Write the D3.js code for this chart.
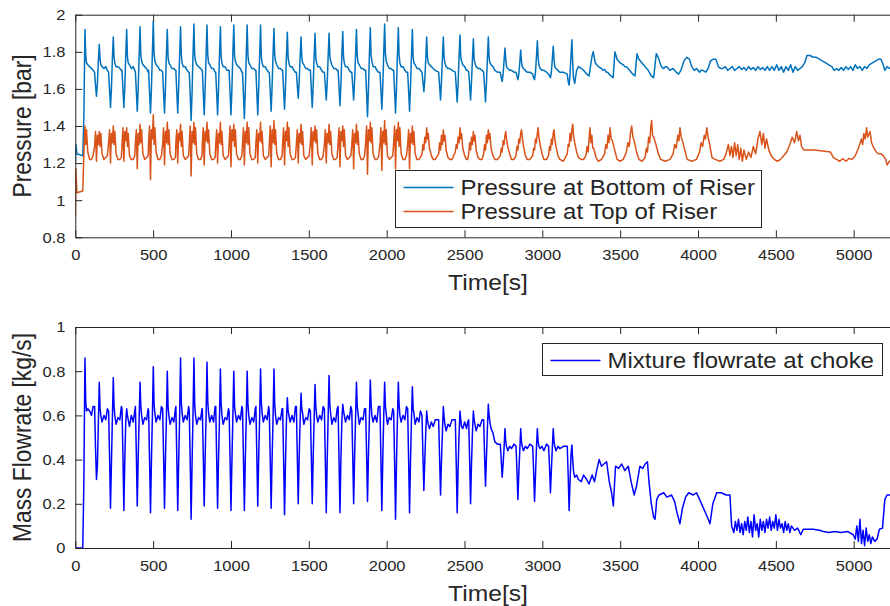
<!DOCTYPE html>
<html><head><meta charset="utf-8">
<script src="https://cdn.jsdelivr.net/npm/d3@7"></script>
<style>
body{margin:0;background:#fff}
svg{display:block}
text{font-family:"Liberation Sans",Arial,Helvetica,sans-serif;fill:#262626}
</style>
</head><body>
<svg id="chart" width="890" height="606"></svg>
<script>
// ---------------- DATA ----------------
const xTicks = [0,500,1000,1500,2000,2500,3000,3500,4000,4500,5000];
const yTicksPressure = [0.8,1,1.2,1.4,1.6,1.8,2];
const yTicksFlow = [0,0.2,0.4,0.6,0.8,1];
const seriesNames = ["Pressure at Bottom of Riser","Pressure at Top of Riser","Mixture flowrate at choke"];

// shared time samples of the slugging cycles (s)
const cycleTime = [
0,4,10,48,55,62,67,72,80,92,104,114,
124,130,136,142,148,154,159,164,172,184,196,206,
214,220,226,232,238,244,249,254,262,274,286,296,
300,306,312,318,324,330,335,340,348,360,372,382,
386,392,398,404,410,416,421,426,434,446,458,468,
471,477,483,489,495,501,506,511,519,531,543,553,
561,567,573,579,585,591,596,601,609,621,633,643,
646,652,658,664,670,676,681,686,694,706,718,728,
732,738,744,750,756,762,767,772,780,792,804,814,
816,822,828,834,840,846,851,856,864,876,888,898,
902,908,914,920,926,932,937,942,950,962,974,984,
988,994,1000,1006,1012,1018,1023,1028,1036,1048,1060,1070,
1074,1080,1086,1092,1098,1104,1109,1114,1122,1134,1146,1156,
1160,1166,1172,1178,1184,1190,1195,1200,1208,1220,1232,1242,
1246,1252,1258,1264,1270,1276,1281,1286,1294,1306,1318,1328,
1332,1338,1344,1350,1356,1362,1367,1372,1380,1392,1404,1414,
1420,1426,1432,1438,1444,1450,1455,1460,1468,1480,1492,1502,
1510,1516,1522,1528,1534,1540,1545,1550,1558,1570,1582,1592,
1600,1606,1612,1618,1624,1630,1635,1640,1648,1660,1672,1682,
1688,1694,1700,1706,1712,1718,1723,1728,1736,1748,1760,1770,
1776,1782,1788,1794,1800,1806,1811,1816,1824,1836,1848,1858,
1865,1871,1877,1883,1889,1895,1900,1905,1913,1925,1937,1947,
1957,1963,1969,1975,1981,1987,1992,1997,2005,2017,2029,2039,
2045,2051,2057,2063,2069,2075,2080,2085,2093,2105,2117,2127,
2135,2141,2147,2153,2159,2165,2170,2175,2183,2195,2207,2217,
2227,2233,2239,2245,2251,2257,2262,2267,2275,2287,2299,2312,
2334,2340,2346,2352,2358,2364,2369,2374,2382,2394,2406,2420,
2441,2447,2453,2459,2465,2471,2476,2481,2489,2501,2513,2520,
2527,2533,2539,2545,2551,2557,2562,2567,2575,2587,2599,2613,
2623,2629,2635,2641,2647,2653,2658,2663,2671,2683,2695,2712,
2730,2736,2742,2748,2754,2760,2765,2770,2778,2790,2802,2818,
2831,2837,2843,2849,2855,2861,2866,2871,2879,2891,2903,2920,
2938,2944,2950,2956,2962,2968,2973,2978,2986,2998,3010,3027,
3040,3046,3052,3058,3064,3070,3075,3080,3088,3100,3112,3135,
3160,3166,3172,3178,3184,3190,3195,3200,3208,3220,3232,3250
];

// Pressure at bottom of riser (bar), at cycleTime
const pBottomCycle = [
1.20,1.30,1.25,1.24,1.45,1.92,1.78,1.74,1.73,1.72,1.71,1.70,
1.69,1.62,1.56,1.63,1.75,1.84,1.76,1.73,1.72,1.71,1.72,1.70,
1.69,1.60,1.50,1.60,1.76,1.88,1.77,1.74,1.72,1.72,1.71,1.70,
1.70,1.60,1.50,1.61,1.78,1.92,1.77,1.74,1.73,1.71,1.72,1.70,
1.69,1.59,1.48,1.60,1.78,1.935,1.78,1.75,1.73,1.72,1.71,1.69,
1.70,1.58,1.47,1.60,1.79,1.965,1.79,1.75,1.73,1.72,1.70,1.70,
1.69,1.58,1.47,1.60,1.78,1.92,1.77,1.74,1.73,1.71,1.71,1.70,
1.70,1.58,1.47,1.61,1.78,1.935,1.78,1.74,1.72,1.72,1.70,1.69,
1.69,1.57,1.43,1.58,1.78,1.95,1.78,1.75,1.73,1.72,1.71,1.70,
1.70,1.58,1.46,1.60,1.78,1.945,1.78,1.74,1.73,1.71,1.71,1.69,
1.69,1.58,1.46,1.60,1.78,1.935,1.77,1.74,1.72,1.72,1.70,1.70,
1.70,1.58,1.46,1.60,1.79,1.945,1.78,1.75,1.73,1.72,1.71,1.69,
1.69,1.57,1.44,1.59,1.78,1.945,1.78,1.74,1.73,1.71,1.71,1.70,
1.70,1.58,1.46,1.60,1.78,1.945,1.77,1.74,1.72,1.72,1.70,1.69,
1.69,1.59,1.48,1.61,1.78,1.925,1.78,1.75,1.73,1.71,1.71,1.70,
1.70,1.59,1.49,1.61,1.77,1.905,1.77,1.74,1.72,1.72,1.70,1.69,
1.69,1.62,1.55,1.64,1.77,1.88,1.77,1.74,1.73,1.71,1.71,1.70,
1.70,1.60,1.50,1.62,1.77,1.90,1.77,1.74,1.72,1.72,1.70,1.69,
1.69,1.62,1.54,1.63,1.77,1.90,1.78,1.75,1.73,1.71,1.71,1.70,
1.70,1.61,1.51,1.62,1.78,1.91,1.77,1.74,1.72,1.72,1.70,1.69,
1.69,1.62,1.54,1.64,1.78,1.92,1.78,1.74,1.73,1.71,1.71,1.70,
1.70,1.58,1.45,1.60,1.78,1.93,1.78,1.75,1.72,1.72,1.70,1.69,
1.69,1.60,1.49,1.61,1.79,1.95,1.79,1.75,1.73,1.71,1.71,1.70,
1.70,1.59,1.47,1.60,1.78,1.93,1.78,1.74,1.72,1.72,1.70,1.69,
1.69,1.59,1.48,1.61,1.77,1.92,1.77,1.74,1.73,1.71,1.71,1.70,
1.69,1.64,1.585,1.65,1.76,1.88,1.77,1.74,1.73,1.72,1.71,1.70,
1.69,1.62,1.54,1.64,1.76,1.88,1.77,1.74,1.72,1.71,1.71,1.70,
1.69,1.61,1.53,1.63,1.77,1.89,1.77,1.75,1.73,1.72,1.70,1.70,
1.69,1.62,1.54,1.64,1.76,1.87,1.76,1.74,1.72,1.71,1.71,1.70,
1.69,1.61,1.53,1.63,1.76,1.88,1.77,1.74,1.73,1.72,1.70,1.69,
1.69,1.66,1.64,1.68,1.75,1.82,1.76,1.72,1.71,1.70,1.70,1.69,
1.69,1.67,1.65,1.68,1.74,1.81,1.75,1.72,1.71,1.70,1.69,1.69,
1.68,1.66,1.65,1.69,1.77,1.86,1.77,1.73,1.71,1.70,1.70,1.69,
1.68,1.67,1.66,1.69,1.76,1.83,1.76,1.72,1.71,1.70,1.69,1.69,
1.68,1.64,1.62,1.68,1.78,1.865,1.74,1.66,1.63,1.70,1.72,1.71
];

// Pressure at top of riser (bar), at cycleTime
const pTopCycle = [
0.91,1.17,1.04,1.05,1.25,1.40,1.30,1.38,1.26,1.22,1.22,1.24,
1.29,1.37,1.21,1.35,1.30,1.37,1.29,1.36,1.25,1.22,1.23,1.24,
1.31,1.38,1.20,1.36,1.31,1.40,1.30,1.37,1.25,1.22,1.22,1.23,
1.30,1.39,1.21,1.37,1.32,1.39,1.29,1.36,1.24,1.22,1.22,1.24,
1.31,1.38,1.17,1.36,1.30,1.41,1.31,1.38,1.25,1.22,1.23,1.24,
1.32,1.40,1.11,1.38,1.33,1.46,1.30,1.39,1.26,1.22,1.22,1.24,
1.30,1.39,1.19,1.37,1.31,1.42,1.30,1.38,1.25,1.22,1.22,1.23,
1.31,1.38,1.20,1.36,1.32,1.41,1.29,1.37,1.24,1.22,1.23,1.24,
1.30,1.40,1.13,1.37,1.31,1.42,1.30,1.39,1.25,1.22,1.22,1.24,
1.31,1.39,1.19,1.37,1.32,1.42,1.31,1.38,1.25,1.22,1.22,1.23,
1.30,1.38,1.20,1.36,1.31,1.42,1.30,1.37,1.24,1.22,1.23,1.24,
1.31,1.40,1.18,1.38,1.32,1.41,1.29,1.38,1.25,1.22,1.22,1.24,
1.30,1.39,1.19,1.37,1.31,1.42,1.30,1.39,1.25,1.22,1.22,1.23,
1.31,1.38,1.20,1.36,1.32,1.42,1.31,1.37,1.24,1.22,1.23,1.24,
1.30,1.40,1.18,1.38,1.31,1.43,1.30,1.38,1.25,1.22,1.22,1.24,
1.31,1.39,1.19,1.37,1.32,1.42,1.29,1.39,1.25,1.22,1.22,1.23,
1.30,1.38,1.20,1.36,1.31,1.41,1.30,1.37,1.24,1.22,1.23,1.24,
1.31,1.39,1.19,1.37,1.32,1.40,1.31,1.38,1.25,1.22,1.22,1.24,
1.30,1.38,1.20,1.36,1.31,1.41,1.30,1.37,1.25,1.22,1.22,1.23,
1.31,1.39,1.18,1.37,1.32,1.40,1.29,1.38,1.24,1.22,1.23,1.24,
1.30,1.38,1.17,1.36,1.31,1.41,1.30,1.37,1.25,1.22,1.22,1.24,
1.31,1.40,1.14,1.38,1.32,1.42,1.31,1.39,1.25,1.22,1.22,1.23,
1.30,1.39,1.16,1.37,1.31,1.43,1.30,1.38,1.24,1.22,1.23,1.24,
1.31,1.40,1.17,1.38,1.32,1.42,1.29,1.39,1.25,1.22,1.22,1.24,
1.30,1.38,1.17,1.36,1.31,1.40,1.30,1.37,1.25,1.22,1.22,1.23,
1.25,1.30,1.27,1.34,1.31,1.39,1.33,1.36,1.28,1.24,1.22,1.22,
1.25,1.31,1.27,1.35,1.30,1.38,1.32,1.35,1.27,1.23,1.22,1.22,
1.26,1.30,1.28,1.34,1.31,1.39,1.33,1.36,1.28,1.24,1.22,1.22,
1.25,1.31,1.27,1.34,1.30,1.37,1.32,1.35,1.27,1.23,1.22,1.22,
1.25,1.30,1.27,1.35,1.31,1.38,1.33,1.36,1.28,1.24,1.22,1.22,
1.24,1.28,1.26,1.32,1.30,1.35,1.37,1.33,1.29,1.25,1.22,1.22,
1.24,1.29,1.27,1.33,1.31,1.36,1.38,1.34,1.29,1.24,1.22,1.22,
1.24,1.28,1.27,1.33,1.31,1.36,1.39,1.34,1.30,1.25,1.22,1.22,
1.24,1.29,1.27,1.33,1.30,1.36,1.38,1.33,1.29,1.24,1.22,1.21,
1.25,1.30,1.29,1.36,1.32,1.38,1.41,1.35,1.31,1.26,1.23,1.22
];

// Mixture flowrate at choke (kg/s), at cycleTime
const flowCycle = [
0,0,0,0,0.30,0.86,0.66,0.62,0.63,0.62,0.60,0.64,
0.64,0.45,0.31,0.37,0.56,0.75,0.63,0.60,0.57,0.60,0.58,0.63,
0.62,0.42,0.18,0.38,0.58,0.77,0.64,0.60,0.56,0.59,0.58,0.64,
0.63,0.42,0.17,0.40,0.57,0.63,0.60,0.58,0.55,0.60,0.57,0.62,
0.64,0.43,0.19,0.41,0.58,0.75,0.64,0.60,0.56,0.59,0.58,0.63,
0.62,0.40,0.16,0.39,0.59,0.82,0.65,0.61,0.57,0.60,0.58,0.64,
0.63,0.42,0.18,0.40,0.58,0.80,0.64,0.60,0.56,0.59,0.57,0.63,
0.64,0.41,0.17,0.39,0.59,0.86,0.66,0.61,0.57,0.60,0.58,0.64,
0.62,0.40,0.13,0.38,0.60,0.86,0.65,0.60,0.56,0.59,0.58,0.63,
0.63,0.42,0.19,0.41,0.59,0.84,0.66,0.61,0.57,0.60,0.57,0.64,
0.64,0.41,0.18,0.40,0.58,0.81,0.65,0.60,0.56,0.59,0.58,0.63,
0.62,0.41,0.17,0.39,0.59,0.80,0.64,0.61,0.57,0.60,0.58,0.64,
0.63,0.41,0.17,0.40,0.58,0.80,0.65,0.60,0.56,0.59,0.57,0.63,
0.64,0.42,0.19,0.41,0.59,0.81,0.66,0.61,0.57,0.60,0.58,0.64,
0.62,0.41,0.18,0.40,0.58,0.81,0.65,0.60,0.56,0.59,0.58,0.63,
0.63,0.40,0.15,0.38,0.57,0.68,0.62,0.60,0.57,0.60,0.57,0.64,
0.64,0.42,0.20,0.41,0.57,0.70,0.63,0.61,0.56,0.59,0.58,0.63,
0.62,0.42,0.20,0.41,0.58,0.74,0.64,0.60,0.57,0.60,0.58,0.64,
0.63,0.40,0.16,0.39,0.59,0.78,0.65,0.61,0.56,0.59,0.57,0.63,
0.64,0.40,0.16,0.40,0.57,0.65,0.62,0.60,0.57,0.60,0.58,0.64,
0.62,0.42,0.20,0.41,0.58,0.75,0.64,0.61,0.56,0.59,0.58,0.63,
0.63,0.43,0.21,0.42,0.58,0.76,0.65,0.60,0.57,0.60,0.57,0.64,
0.64,0.41,0.17,0.40,0.59,0.75,0.64,0.61,0.56,0.59,0.58,0.63,
0.62,0.39,0.13,0.38,0.58,0.75,0.65,0.60,0.57,0.60,0.58,0.64,
0.63,0.40,0.16,0.39,0.57,0.73,0.63,0.61,0.56,0.59,0.57,0.62,
0.60,0.42,0.26,0.40,0.52,0.62,0.58,0.56,0.54,0.57,0.55,0.58,
0.58,0.41,0.24,0.39,0.52,0.64,0.59,0.56,0.53,0.56,0.55,0.58,
0.58,0.38,0.16,0.36,0.51,0.62,0.58,0.55,0.54,0.57,0.54,0.57,
0.58,0.40,0.20,0.38,0.52,0.62,0.58,0.56,0.53,0.56,0.55,0.58,
0.58,0.42,0.28,0.41,0.54,0.65,0.60,0.57,0.54,0.52,0.48,0.47,
0.47,0.40,0.32,0.38,0.45,0.54,0.48,0.46,0.44,0.46,0.45,0.47,
0.46,0.35,0.22,0.34,0.44,0.54,0.48,0.46,0.44,0.46,0.45,0.47,
0.46,0.35,0.21,0.33,0.45,0.54,0.48,0.46,0.45,0.46,0.44,0.47,
0.46,0.37,0.25,0.35,0.45,0.54,0.48,0.46,0.44,0.46,0.45,0.46,
0.46,0.33,0.17,0.30,0.42,0.466,0.40,0.35,0.32,0.33,0.31,0.30
];

// irregular tail after the slugging cycles
const tailTimeBottom = [3265,3285,3300,3320,3327,3340,3350,3360,3370,3380,3390,3400,3410,3420,3440,3455,3466,3480,3490,3500,3510,3520,3530,3540,3560,3580,3595,3608,3620,3630,3640,3650,3660,3680,3700,3715,3732,3745,3760,3770,3780,3790,3800,3810,3820,3830,3840,3860,3875,3890,3910,3927,3945,3960,3975,3990,4000,4010,4020,4030,4050,4065,4080,4097,4115,4130,4145,4160,4175,4190,4205,4220,4235,4250,4265,4280,4295,4310,4325,4340,4355,4370,4385,4400,4415,4430,4445,4460,4475,4490,4505,4520,4535,4550,4565,4580,4595,4610,4625,4640,4655,4670,4685,4700,4720,4740,4760,4780,4800,4820,4840,4860,4875,4890,4905,4920,4935,4950,4965,4980,4995,5010,5025,5040,5055,5070,5085,5100,5120,5140,5160,5175,5190,5200,5215,5230,5245,5260,5300];
const tailBottom = [1.70,1.68,1.67,1.78,1.80,1.74,1.73,1.72,1.715,1.71,1.70,1.705,1.69,1.69,1.67,1.66,1.80,1.76,1.75,1.74,1.735,1.73,1.72,1.72,1.70,1.68,1.67,1.79,1.76,1.75,1.74,1.73,1.72,1.70,1.67,1.66,1.79,1.77,1.73,1.715,1.71,1.72,1.72,1.71,1.70,1.705,1.71,1.69,1.68,1.70,1.75,1.77,1.76,1.72,1.70,1.71,1.70,1.69,1.70,1.70,1.69,1.71,1.75,1.76,1.76,1.72,1.71,1.71,1.72,1.70,1.71,1.72,1.70,1.71,1.72,1.705,1.715,1.70,1.72,1.705,1.715,1.70,1.72,1.705,1.715,1.70,1.72,1.70,1.72,1.70,1.73,1.70,1.72,1.69,1.72,1.70,1.73,1.69,1.72,1.70,1.71,1.72,1.74,1.78,1.78,1.77,1.77,1.76,1.75,1.74,1.73,1.72,1.70,1.71,1.70,1.715,1.70,1.72,1.705,1.72,1.70,1.73,1.71,1.72,1.70,1.72,1.71,1.73,1.74,1.75,1.76,1.76,1.73,1.70,1.72,1.71,1.72,1.72,1.72];

const tailTimeTop = [3265,3280,3288,3295,3300,3306,3312,3318,3324,3330,3345,3360,3380,3400,3408,3415,3422,3428,3435,3442,3450,3465,3480,3500,3520,3540,3550,3558,3566,3574,3582,3590,3605,3620,3640,3660,3668,3675,3683,3690,3696,3702,3708,3715,3730,3745,3760,3790,3820,3840,3850,3860,3870,3877,3884,3892,3900,3915,3930,3960,3990,4010,4020,4030,4040,4048,4056,4065,4075,4090,4110,4140,4165,4180,4195,4205,4215,4225,4235,4245,4255,4265,4275,4285,4295,4310,4325,4340,4355,4370,4385,4398,4410,4420,4430,4440,4455,4470,4490,4510,4530,4550,4570,4590,4605,4620,4634,4645,4655,4665,4680,4700,4750,4800,4850,4870,4890,4910,4930,4950,4970,4990,5010,5030,5050,5058,5065,5074,5083,5090,5095,5105,5115,5130,5145,5160,5175,5190,5205,5215,5230,5250,5300];
const tailTop = [1.22,1.24,1.29,1.26,1.33,1.39,1.31,1.35,1.28,1.28,1.23,1.21,1.22,1.25,1.30,1.28,1.35,1.31,1.39,1.33,1.32,1.27,1.22,1.21,1.22,1.26,1.31,1.29,1.36,1.40,1.34,1.32,1.26,1.22,1.21,1.23,1.28,1.26,1.34,1.31,1.39,1.43,1.35,1.34,1.30,1.25,1.22,1.21,1.22,1.25,1.30,1.28,1.35,1.32,1.39,1.34,1.32,1.27,1.22,1.21,1.22,1.26,1.31,1.29,1.35,1.33,1.39,1.34,1.30,1.23,1.22,1.21,1.22,1.25,1.30,1.24,1.29,1.23,1.31,1.24,1.30,1.22,1.28,1.21,1.27,1.22,1.26,1.23,1.29,1.25,1.33,1.37,1.30,1.36,1.28,1.33,1.27,1.24,1.22,1.21,1.22,1.24,1.26,1.30,1.34,1.31,1.37,1.32,1.35,1.29,1.27,1.27,1.27,1.265,1.26,1.23,1.22,1.21,1.225,1.21,1.225,1.22,1.24,1.28,1.33,1.30,1.36,1.33,1.39,1.34,1.35,1.37,1.31,1.28,1.26,1.25,1.25,1.24,1.22,1.19,1.21,1.22,1.22];

const tailTimeFlow = [3265,3285,3300,3320,3335,3349,3365,3380,3395,3413,3430,3445,3456,3470,3490,3510,3530,3552,3570,3590,3605,3627,3645,3660,3675,3685,3700,3715,3724,3735,3750,3780,3800,3830,3850,3865,3884,3900,3920,3940,3970,3990,4010,4035,4060,4077,4095,4120,4150,4180,4205,4216,4230,4240,4250,4260,4270,4280,4290,4300,4310,4320,4330,4340,4350,4360,4370,4380,4390,4400,4410,4420,4430,4440,4450,4460,4470,4480,4490,4500,4510,4520,4530,4540,4550,4560,4570,4580,4590,4600,4620,4640,4660,4676,4700,4740,4780,4805,4840,4880,4920,4960,4997,5010,5020,5030,5040,5050,5060,5070,5080,5090,5100,5110,5120,5135,5150,5165,5185,5200,5215,5240,5300];
const tailFlow = [0.33,0.31,0.29,0.33,0.30,0.35,0.40,0.37,0.38,0.39,0.30,0.25,0.19,0.37,0.36,0.38,0.35,0.37,0.30,0.24,0.28,0.37,0.36,0.38,0.39,0.30,0.20,0.14,0.13,0.22,0.24,0.25,0.23,0.24,0.21,0.16,0.11,0.18,0.23,0.25,0.24,0.25,0.22,0.18,0.14,0.11,0.20,0.25,0.25,0.24,0.24,0.10,0.07,0.12,0.08,0.13,0.07,0.11,0.06,0.12,0.08,0.14,0.07,0.12,0.05,0.15,0.08,0.11,0.05,0.13,0.08,0.12,0.07,0.13,0.09,0.14,0.08,0.12,0.09,0.15,0.08,0.13,0.09,0.11,0.07,0.12,0.08,0.11,0.07,0.10,0.08,0.09,0.06,0.085,0.085,0.085,0.08,0.075,0.07,0.075,0.07,0.075,0.06,0.04,0.10,0.03,0.13,0.02,0.08,0.01,0.09,0.03,0.06,0.02,0.05,0.03,0.04,0.085,0.09,0.22,0.24,0.24,0.25];

// ---------------- DRAW ----------------
const svg = d3.select("#chart");
const SX = 1.1; // horizontal text stretch of the reference rendering
const ink = "#262626";
const colBottom = "#0072BD", colTop = "#D95319", colFlow = "#0000FF";

const x = d3.scaleLinear().domain([0, 5300]).range([75.3, 900.4]);
const yP = d3.scaleLinear().domain([0.8, 2]).range([237.3, 14.7]);
const yF = d3.scaleLinear().domain([0, 1]).range([548, 327]);

function pairs(t, v){ return t.map((d,i)=>[d, v[i]]); }
const dBottom = pairs(cycleTime.concat(tailTimeBottom), pBottomCycle.concat(tailBottom));
const dTop = pairs(cycleTime.concat(tailTimeTop), pTopCycle.concat(tailTop));
const dFlow = pairs(cycleTime.concat(tailTimeFlow), flowCycle.concat(tailFlow));

const defs = svg.append("defs");
function clip(id, y){
  const r = y.range();
  defs.append("clipPath").attr("id", id).append("rect")
    .attr("x", x.range()[0]).attr("y", r[1]-1)
    .attr("width", x.range()[1]-x.range()[0]).attr("height", r[0]-r[1]+2);
}
clip("cP", yP); clip("cF", yF);

function drawLine(data, y, color, clipId){
  const line = d3.line().x(d=>x(d[0])).y(d=>y(d[1]));
  svg.append("path").datum(data)
    .attr("clip-path", `url(#${clipId})`)
    .attr("fill","none").attr("stroke", color)
    .attr("stroke-width", 1.5).attr("stroke-linejoin","round")
    .attr("d", line);
}

function styleAxis(g, size){
  g.attr("font-family", null).attr("font-size", null).attr("color", ink);
  g.selectAll("path.domain").attr("stroke", ink).attr("stroke-width", 1);
  g.selectAll("line").attr("stroke", ink).attr("stroke-width", 1);
  g.selectAll("text").style("font-size", size+"px").attr("fill", "#333")
    .attr("transform", `scale(${SX},1)`);
}

function drawAxes(y, yTicks, yLabel){
  const [bottom, top] = y.range();
  const gx = svg.append("g").attr("transform", `translate(0,${bottom})`)
    .call(d3.axisBottom(x).tickValues(xTicks).tickFormat(d3.format("d")).tickSizeInner(-7).tickSizeOuter(0).tickPadding(12));
  styleAxis(gx, 15);
  const gt = svg.append("g").attr("transform", `translate(0,${top})`)
    .call(d3.axisTop(x).tickValues(xTicks).tickSizeInner(-7).tickSizeOuter(0).tickFormat(""));
  styleAxis(gt, 15);
  const gy = svg.append("g").attr("transform", `translate(${x.range()[0]},0)`)
    .call(d3.axisLeft(y).tickValues(yTicks).tickFormat(d3.format("~g")).tickSizeInner(-7).tickSizeOuter(0).tickPadding(9));
  styleAxis(gy, 15);
  svg.append("text")
    .attr("transform", `translate(488,${bottom+45}) scale(${SX},1)`)
    .attr("text-anchor","middle").attr("dy","0.35em")
    .style("font-size","22.4px").text("Time[s]");
  svg.append("text")
    .attr("transform", `translate(22.5,${(bottom+top)/2}) scale(${SX},1) rotate(-90)`)
    .attr("text-anchor","middle").attr("dy","0.35em")
    .style("font-size","22.8px").text(yLabel);
}

drawLine(dBottom, yP, colBottom, "cP");
drawLine(dTop, yP, colTop, "cP");
drawLine(dFlow, yF, colFlow, "cF");

drawAxes(yP, yTicksPressure, "Pressure [bar]");
drawAxes(yF, yTicksFlow, "Mass Flowrate [kg/s]");

function legend(x0, y0, w, h, items){
  const g = svg.append("g");
  g.append("rect").attr("x", x0).attr("y", y0).attr("width", w).attr("height", h)
    .attr("fill","#fff").attr("stroke", ink).attr("stroke-width", 1);
  items.forEach((it, i) => {
    const cy = y0 + 17 + i*24;
    g.append("line").attr("x1", x0+8).attr("x2", x0+58).attr("y1", cy).attr("y2", cy)
      .attr("stroke", it.color).attr("stroke-width", 1.3);
    g.append("text").attr("transform", `translate(${x0+65},${cy}) scale(${SX},1)`)
      .attr("dy","0.35em").style("font-size","21.8px").attr("fill","#111").text(it.name);
  });
}
legend(395.5, 170.5, 366, 57, [
  {name: seriesNames[0], color: colBottom},
  {name: seriesNames[1], color: colTop}
]);
legend(542.5, 343.5, 340, 32, [
  {name: seriesNames[2], color: colFlow}
]);
</script>
</body></html>
